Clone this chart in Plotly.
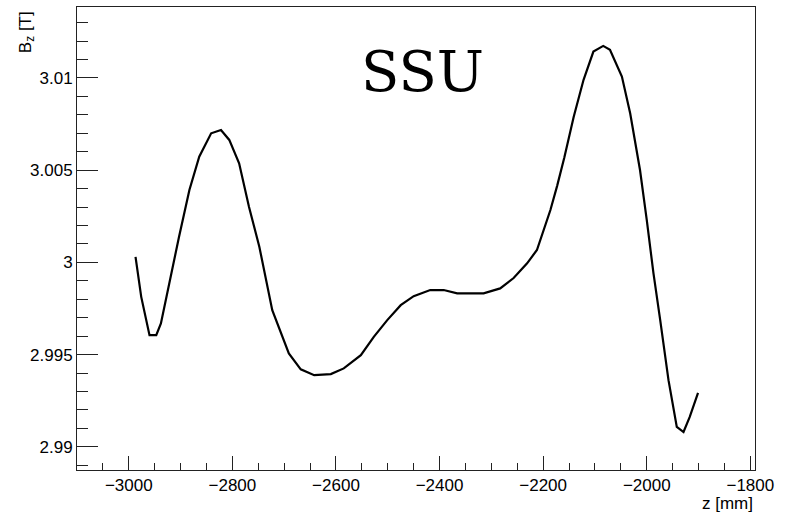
import plotly.graph_objects as go

z_mm = [-2987, -2976, -2960, -2947, -2938, -2922, -2903, -2883, -2864, -2841, -2822,
        -2806, -2787, -2768, -2748, -2723, -2691, -2668, -2642, -2610, -2585, -2552,
        -2527, -2501, -2475, -2450, -2418, -2392, -2366, -2315, -2283, -2257, -2231,
        -2212, -2199, -2186, -2173, -2159, -2141, -2122, -2103, -2084, -2071, -2048,
        -2032, -2013, -2000, -1987, -1974, -1958, -1942, -1929, -1917, -1901]
bz_T = [3.00030, 2.99813, 2.99605, 2.99605, 2.99669, 2.99886, 3.00139, 3.00393, 3.00573,
        3.00700, 3.00718, 3.00664, 3.00537, 3.00302, 3.00085, 2.99741, 2.99506, 2.99420,
        2.99388, 2.99394, 2.99425, 2.99497, 2.99596, 2.99687, 2.99768, 2.99817, 2.99850,
        2.99850, 2.99832, 2.99832, 2.99859, 2.99915, 2.99995, 3.00067, 3.00175, 3.00284,
        3.00415, 3.00570, 3.00790, 3.00990, 3.01143, 3.01174, 3.01153, 3.01008, 3.00809,
        3.00501, 3.00230, 2.99940, 2.99687, 2.99361, 2.99108, 2.99080, 2.99162, 2.99292]

x_ticks = [-3000, -2800, -2600, -2400, -2200, -2000, -1800]
x_ticklabels = ["\u22123000", "\u22122800", "\u22122600", "\u22122400", "\u22122200", "\u22122000", "\u22121800"]
y_ticks = [2.99, 2.995, 3.0, 3.005, 3.01]
y_ticklabels = ["2.99", "2.995", "3", "3.005", "3.01"]

tick_font = dict(family="Liberation Sans, Arial, sans-serif", size=17, color="black")

fig = go.Figure()
fig.add_trace(go.Scatter(x=z_mm, y=bz_T, mode="lines",
                         line=dict(color="black", width=2.2), showlegend=False))

fig.update_layout(
    width=788, height=514,
    margin=dict(l=77, r=33, t=7, b=44),
    paper_bgcolor="white", plot_bgcolor="white",
    xaxis=dict(range=[-3100, -1791], tickmode="array", tickvals=x_ticks, ticktext=x_ticklabels,
               ticks="inside", ticklen=14, tickwidth=1, tickcolor="#222",
               showline=True, linecolor="#222", linewidth=1, mirror=True,
               showgrid=False, zeroline=False, tickfont=tick_font,
               minor=dict(ticks="inside", ticklen=7, dtick=50, tick0=-3000, tickcolor="#222", showgrid=False)),
    yaxis=dict(range=[2.98874, 3.01385], tickmode="array", tickvals=y_ticks, ticktext=y_ticklabels,
               ticks="inside", ticklen=21, tickwidth=1, tickcolor="#222",
               showline=True, linecolor="#222", linewidth=1, mirror=True,
               showgrid=False, zeroline=False, tickfont=tick_font,
               minor=dict(ticks="inside", ticklen=11, dtick=0.001, tick0=2.99, tickcolor="#222", showgrid=False)),
    annotations=[
        dict(text="SSU", x=0.510, y=0.861, xref="paper", yref="paper",
             xanchor="center", yanchor="middle", showarrow=False,
             font=dict(family="DejaVu Serif, serif", size=56, color="black")),
        dict(text="z [mm]", x=1.0, y=-0.072, xref="paper", yref="paper",
             xanchor="right", yanchor="middle", showarrow=False, font=tick_font),
        dict(text="B<sub>z</sub> [T]", x=-0.074, y=0.995, xref="paper", yref="paper",
             xanchor="center", yanchor="top", textangle=-90, showarrow=False, font=tick_font),
    ],
)

fig.write_html("out.html")
